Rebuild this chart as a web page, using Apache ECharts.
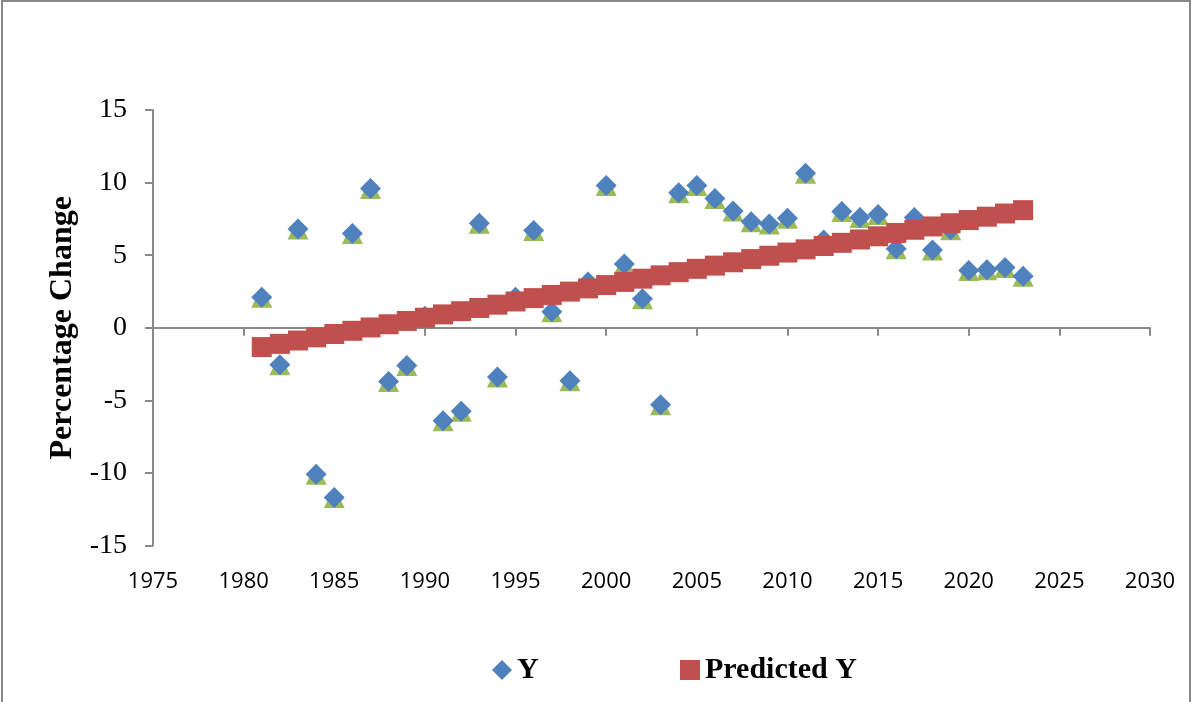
<!DOCTYPE html>
<html>
<head>
<meta charset="utf-8">
<script src="https://cdn.jsdelivr.net/npm/echarts@6/dist/echarts.min.js"></script>
<style>html,body{margin:0;padding:0;background:#fff}#c{width:1192px;height:702px}</style>
</head>
<body>
<div id="c"></div>
<script>
const years = [1981,1982,1983,1984,1985,1986,1987,1988,1989,1990,1991,1992,1993,1994,1995,1996,1997,1998,1999,2000,2001,2002,2003,2004,2005,2006,2007,2008,2009,2010,2011,2012,2013,2014,2015,2016,2017,2018,2019,2020,2021,2022,2023];
const yValues = [2.1,-2.55,6.8,-10.1,-11.7,6.5,9.6,-3.7,-2.6,0.8,-6.4,-5.75,7.2,-3.4,2.1,6.7,1.1,-3.65,3.15,9.8,4.4,2.0,-5.3,9.3,9.8,8.9,8.05,7.3,7.15,7.55,10.65,6.05,8.0,7.6,7.8,5.45,7.6,5.35,6.75,3.95,4.0,4.15,3.55];
const predictedY = [-1.33,-1.11,-0.88,-0.66,-0.43,-0.21,0.02,0.24,0.47,0.69,0.92,1.14,1.36,1.59,1.81,2.04,2.26,2.49,2.71,2.94,3.16,3.38,3.61,3.83,4.06,4.28,4.51,4.73,4.96,5.18,5.40,5.63,5.85,6.08,6.30,6.53,6.75,6.98,7.20,7.42,7.65,7.87,8.10];
const xTicks = {min:1975, max:2030, step:5};
const yTicks = {min:-15, max:15, step:5};
const yTitle = 'Percentage Change';
const names = ['Y','Predicted Y'];

const pair = (a) => years.map((x,i)=>[x,a[i]]);
const axisGray = '#898989';
const chart = echarts.init(document.getElementById('c'));
chart.setOption({
  backgroundColor:'#fff',
  animation:false,
  graphic:[{type:'rect',shape:{x:2,y:1,width:1188,height:720},style:{fill:'none',stroke:axisGray,lineWidth:2},silent:true}],
  grid:{left:153,right:42,top:110,bottom:156.5},
  legend:[
    {data:[{name:names[0],icon:'diamond'}],left:487,top:650,itemWidth:20,itemHeight:20,
     textStyle:{fontFamily:'Liberation Serif',fontWeight:'bold',fontSize:30,color:'#000'}},
    {data:[{name:names[1],icon:'rect'}],left:675,top:650,itemWidth:20,itemHeight:20,
     textStyle:{fontFamily:'Liberation Serif',fontWeight:'bold',fontSize:30,color:'#000'}}
  ],
  xAxis:[
    {type:'value',min:xTicks.min,max:xTicks.max,interval:xTicks.step,
     axisLine:{show:true,onZero:true,lineStyle:{color:axisGray,width:2}},
     axisTick:{show:true,inside:false,length:8,lineStyle:{color:axisGray,width:2}},
     axisLabel:{show:false},splitLine:{show:false}},
    {type:'value',position:'bottom',min:xTicks.min,max:xTicks.max,interval:xTicks.step,
     axisLine:{show:false,onZero:false},axisTick:{show:false},splitLine:{show:false},
     axisLabel:{show:true,margin:25,fontFamily:'Open Sans',fontSize:22,color:'#000',formatter:(v)=>String(v)}}
  ],
  yAxis:{type:'value',min:yTicks.min,max:yTicks.max,interval:yTicks.step,
    name:yTitle,nameLocation:'middle',nameGap:67,
    nameTextStyle:{fontFamily:'Liberation Serif',fontWeight:'bold',fontSize:32,color:'#000'},
    axisLine:{show:true,onZero:false,lineStyle:{color:axisGray,width:2}},
    axisTick:{show:true,inside:false,length:8,lineStyle:{color:axisGray,width:2}},
    axisLabel:{margin:26,fontFamily:'Liberation Serif',fontSize:28,color:'#000'},
    splitLine:{show:false}},
  series:[
    {name:'Y shadow',type:'scatter',xAxisIndex:0,data:pair(yValues),symbol:'triangle',symbolSize:21,
     itemStyle:{color:'#9BBB59',opacity:1},z:2,silent:true},
    {name:names[0],type:'scatter',xAxisIndex:0,data:pair(yValues),symbol:'diamond',symbolSize:21,
     itemStyle:{color:'#4F81BD',opacity:1},z:3},
    {name:names[1],type:'scatter',xAxisIndex:0,data:pair(predictedY),symbol:'rect',symbolSize:20,
     itemStyle:{color:'#C0504D',opacity:1},z:4}
  ]
});
</script>
</body>
</html>
